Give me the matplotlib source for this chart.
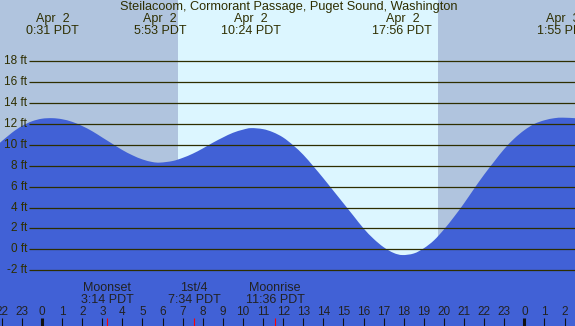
import matplotlib
matplotlib.use("Agg")
import matplotlib.pyplot as plt
from matplotlib.path import Path
from matplotlib.patches import PathPatch
import numpy as np

plt.rcParams['font.family'] = ['Liberation Sans', 'DejaVu Sans']

tide_hours = [-2.09, -1.5, -1, -0.5, 0, 0.52, 1, 1.5, 2, 2.5, 3, 3.5, 4, 4.5, 5, 5.5, 5.88,
              6.5, 7, 7.5, 8, 8.5, 9, 9.5, 10, 10.4, 11, 11.5, 12, 12.5, 13, 13.5, 14, 14.5,
              15, 15.5, 16, 16.5, 17, 17.5, 17.93, 18.5, 19, 19.5, 20, 20.5, 21, 21.5, 22,
              22.5, 23, 23.5, 24, 24.5, 25, 25.5, 25.92, 26.52]
tide_ft = [10.2, 11.15, 11.8, 12.25, 12.5, 12.55, 12.45, 12.2, 11.8, 11.3, 10.7, 10.1, 9.5,
           9.0, 8.6, 8.35, 8.3, 8.45, 8.75, 9.15, 9.65, 10.2, 10.7, 11.15, 11.45, 11.6, 11.5,
           11.2, 10.7, 9.95, 9.05, 7.95, 6.8, 5.6, 4.4, 3.2, 2.0, 1.0, 0.2, -0.35, -0.55,
           -0.4, 0.1, 0.85, 1.9, 3.1, 4.4, 5.8, 7.15, 8.4, 9.6, 10.6, 11.4, 12.0, 12.35, 12.55,
           12.6, 12.55]

# high / low tide labels across the top
event_hours = [0.52, 5.88, 10.4, 17.93, 25.92]
event_dates = ["Apr  2", "Apr  2", "Apr  2", "Apr  2", "Apr  3"]
event_times = ["0:31 PDT", "5:53 PDT", "10:24 PDT", "17:56 PDT", "1:55 PDT"]

# moon events along the bottom
moon_hours = [3.23, 7.57, 11.6]
moon_names = ["Moonset", "1st/4", "Moonrise"]
moon_times = ["3:14 PDT", "7:34 PDT", "11:36 PDT"]

sunrise, sunset = 6.77, 19.72
grid_ft = list(range(-2, 19, 2))
hour_ticks = list(range(-2, 27))

x_min, x_max = -2.09, 26.52
y_min, y_max = -7.34, 23.86

night = '#b0c4de'
day = '#dcf6ff'
water = '#4161d6'
ink = '#2e2e00'


def smooth_outline(xs, ys, bottom):
    # catmull-rom through the read points, as bezier segments
    p = np.column_stack([xs, ys])
    ext = np.vstack([p[0], p, p[-1]])
    verts = [tuple(p[0])]
    codes = [Path.MOVETO]
    for i in range(1, len(ext) - 2):
        c1 = ext[i] + (ext[i + 1] - ext[i - 1]) / 6
        c2 = ext[i + 1] - (ext[i + 2] - ext[i]) / 6
        verts += [tuple(c1), tuple(c2), tuple(ext[i + 1])]
        codes += [Path.CURVE4] * 3
    verts += [(xs[-1], bottom), (xs[0], bottom), (xs[0], ys[0])]
    codes += [Path.LINETO, Path.LINETO, Path.CLOSEPOLY]
    return Path(verts, codes)


fig = plt.figure(figsize=(5.75, 3.26), dpi=100)
ax = fig.add_axes([0, 0, 1, 1])
ax.set_xlim(x_min, x_max)
ax.set_ylim(y_min, y_max)
ax.axis('off')

ax.axvspan(x_min, sunrise, color=night, lw=0)
ax.axvspan(sunrise, sunset, color=day, lw=0)
ax.axvspan(sunset, x_max, color=night, lw=0)

ax.add_patch(PathPatch(smooth_outline(tide_hours, tide_ft, y_min - 1),
                       facecolor=water, lw=0, zorder=2))

grid_start = -0.64
ax.hlines(grid_ft, grid_start, x_max, color=ink, lw=0.9, zorder=3)
for g in grid_ft:
    ax.text(grid_start - 0.1, g, f"{g} ft", ha='right', va='center',
            fontsize=8.5, color=ink, zorder=4)

xt = ax.get_xaxis_transform()
ax.text(12.3, 0.978, "Steilacoom, Cormorant Passage, Puget Sound, Washington",
        transform=xt, ha='center', va='center', fontsize=9.2, color=ink)
for h, d, t in zip(event_hours, event_dates, event_times):
    ax.text(h, 0.942, d, transform=xt, ha='center', va='center', fontsize=9, color=ink)
    ax.text(h, 0.904, t, transform=xt, ha='center', va='center', fontsize=9, color=ink)

for h, n, t in zip(moon_hours, moon_names, moon_times):
    ax.text(h, 0.117, n, transform=xt, ha='center', va='center', fontsize=9, color='#222222')
    ax.text(h, 0.081, t, transform=xt, ha='center', va='center', fontsize=9, color='#222222')
    ax.vlines(h, 0, 0.024, transform=xt, color='#ff0000', lw=0.8, zorder=5)

for h in hour_ticks:
    ax.text(h, 0.044, str(h % 24), transform=xt, ha='center', va='center',
            fontsize=8.5, color='#222222')
    lw = 2.2 if h % 24 == 0 else 0.8
    ax.vlines(h, 0, 0.024, transform=xt, color='#111111', lw=lw, zorder=5)

fig.savefig("out.png", dpi=100)
